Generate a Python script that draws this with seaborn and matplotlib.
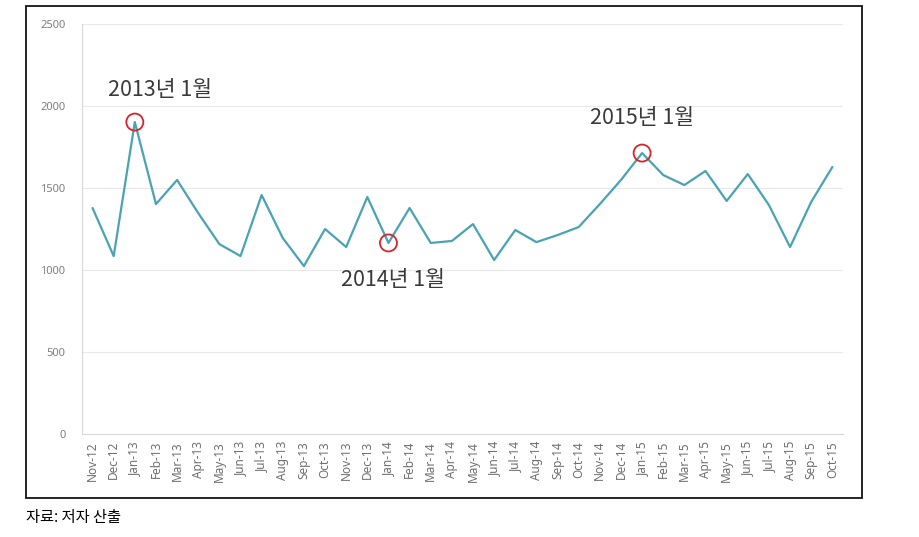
import numpy as np
import pandas as pd
import seaborn as sns
from matplotlib import pyplot as plt
from matplotlib.patches import Rectangle

months = ['Nov-12', 'Dec-12',
          'Jan-13', 'Feb-13', 'Mar-13', 'Apr-13', 'May-13', 'Jun-13',
          'Jul-13', 'Aug-13', 'Sep-13', 'Oct-13', 'Nov-13', 'Dec-13',
          'Jan-14', 'Feb-14', 'Mar-14', 'Apr-14', 'May-14', 'Jun-14',
          'Jul-14', 'Aug-14', 'Sep-14', 'Oct-14', 'Nov-14', 'Dec-14',
          'Jan-15', 'Feb-15', 'Mar-15', 'Apr-15', 'May-15', 'Jun-15',
          'Jul-15', 'Aug-15', 'Sep-15', 'Oct-15']
values = [1378, 1085,
          1902, 1402, 1549, 1347, 1158, 1085,
          1457, 1195, 1024, 1250, 1140, 1445,
          1165, 1378, 1165, 1177, 1280, 1061,
          1244, 1170, 1213, 1262, 1402, 1549,
          1713, 1579, 1518, 1604, 1421, 1585,
          1396, 1140, 1415, 1628]
y_ticks = [0, 500, 1000, 1500, 2000, 2500]

# highlighted months and their labels
marked = ['Jan-13', 'Jan-14', 'Jan-15']
marked_labels = ['2013년 1월', '2014년 1월', '2015년 1월']
label_offsets = [(18, 23), (3, -27), (0, 25)]

sns.set_style('white')
plt.rcParams['font.family'] = ['Noto Sans CJK KR', 'DejaVu Sans']

df = pd.DataFrame({'pos': np.arange(len(months)), 'month': months, 'value': values})

fig = plt.figure(figsize=(9.19, 5.37), dpi=100)
ax = fig.add_axes([0.0892, 0.1918, 0.828, 0.7635])

sns.lineplot(data=df, x='pos', y='value', ax=ax, color='#4aa3b3', linewidth=1.6)

# red circles on the marked months
mk = df[df['month'].isin(marked)]
sns.scatterplot(data=mk, x='pos', y='value', ax=ax, s=150, facecolor='none',
                edgecolor='#d8232a', linewidth=1.3, zorder=5)

for m, lab, off in zip(marked, marked_labels, label_offsets):
    row = df[df['month'] == m].iloc[0]
    ax.annotate(lab, (row['pos'], row['value']), xytext=off, textcoords='offset points',
                ha='center', va='center', fontsize=15.5, color='#3a3a3a')

ax.set_xlim(-0.5, len(months) - 0.5)
ax.set_ylim(0, 2500)
ax.set_yticks(y_ticks)
ax.set_yticklabels([str(v) for v in y_ticks], fontsize=8, color='#7f7f7f', family='Noto Sans')
ax.set_xticks(df['pos'])
ax.set_xticklabels(months, rotation=90, fontsize=8.5, color='#6f6f6f', family='Noto Sans')
ax.set_xticks(np.arange(len(months) + 1) - 0.5, minor=True)
ax.tick_params(axis='x', which='major', length=0, pad=5)
ax.tick_params(axis='x', which='minor', length=4, color='#d9d9d9', width=0.8)
ax.tick_params(axis='y', length=0, pad=12)
ax.set_xlabel('')
ax.set_ylabel('')

ax.yaxis.grid(True, color='#e8e8e8', linewidth=0.8)
ax.set_axisbelow(True)
for s in ['top', 'right']:
    ax.spines[s].set_visible(False)
ax.spines['left'].set_color('#d9d9d9')
ax.spines['bottom'].set_color('#d9d9d9')
ax.spines['left'].set_linewidth(0.8)
ax.spines['bottom'].set_linewidth(0.8)

# outer frame
fig.patches.append(Rectangle((0.0283, 0.0726), 0.9097, 0.9162, transform=fig.transFigure,
                             fill=False, edgecolor='black', linewidth=1.2))

fig.text(0.0283, 0.037, '자료: 저자 산출', fontsize=11, color='black', va='center', ha='left')

fig.savefig('out.png', dpi=100)
